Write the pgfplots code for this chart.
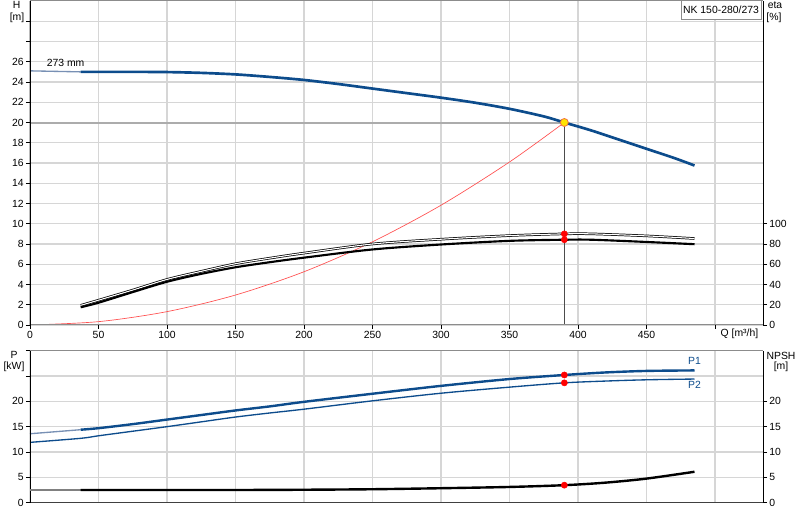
\documentclass[border=0pt]{standalone}
\usepackage{pgfplots}
\pgfplotsset{compat=1.18}
\usepackage{fontspec}
\setmainfont{Liberation Sans}
\definecolor{hblue}{HTML}{0D4C8C}
\definecolor{lblue}{HTML}{7890B4}
\definecolor{gridc}{HTML}{D6D6D6}
\definecolor{framec}{HTML}{8C8C8C}
\definecolor{dutyfill}{HTML}{FFE400}
\definecolor{dutyedge}{HTML}{F07040}
\definecolor{sysred}{HTML}{FF5050}
\begin{document}
\begin{tikzpicture}[font=\fontsize{7.8}{9}\selectfont]
\path[use as bounding box] (0pt,0pt) rectangle (600pt,390pt);
\pgfplotsset{
  base/.style={scale only axis, width=549.75pt, xmin=0, xmax=535,
    axis line style={draw=none},
    tick align=outside, major tick length=3pt,
    tick style={black, line width=0.5pt},
    tick label style={font=\fontsize{7.8}{9}\selectfont},
    /pgf/number format/assume math mode=true,
    every tick label/.append style={inner sep=1.5pt}},
  sec/.style={scale only axis, width=549.75pt, xmin=0, xmax=535,
    hide x axis, axis y line*=right, axis line style={black, line width=0.75pt, -},
    tick align=outside, major tick length=3pt,
    tick style={black, line width=0.5pt},
    tick label style={font=\fontsize{7.8}{9}\selectfont},
    /pgf/number format/assume math mode=true,
    every tick label/.append style={inner sep=1.5pt}},
}
% ---------- top panel: H ----------
\begin{axis}[base, at={(22.5pt,146.25pt)}, anchor=south west, height=243pt,
  ymin=0, ymax=32,
  xtick={0,50,...,500}, xticklabels={0,50,100,150,200,250,300,350,400,450,{}},
  ytick={0,2,...,30}, yticklabels={0,2,4,6,8,10,12,14,16,18,20,22,24,26,{},{}},
  xtick pos=bottom, ytick pos=left,
  grid=major, major grid style={gridc, line width=0.9pt}]
  % system curve
  \addplot[sysred, line width=0.5pt, smooth] coordinates {
    (0,0) (50,0.33) (100,1.32) (150,2.96) (200,5.26) (250,8.22) (300,11.83) (350,16.1) (390,20.0)};
  % duty lines
  \addplot[gray!65, line width=1.5pt] coordinates {(0,19.93) (390,19.93)};
  \addplot[black!70, line width=0.8pt] coordinates {(390,0) (390,20)};
  % H curve
  \addplot[lblue, line width=1pt] coordinates {(0,25.1) (37,25.0)};
  \addplot[hblue, line width=2pt, smooth] coordinates {
    (37,25.0) (50,25.0) (75,25.0) (100,24.98) (125,24.9) (150,24.75) (175,24.5) (200,24.2)
    (225,23.8) (250,23.35) (275,22.9) (300,22.45) (325,21.95) (350,21.35) (375,20.6)
    (390,20.0) (410,19.2) (430,18.3) (450,17.4) (470,16.5) (485,15.75)};
  \addplot[only marks, mark=*, mark size=3pt, mark options={fill=dutyfill, draw=dutyedge, line width=0.6pt}]
    coordinates {(390,20.0)};
  \node at (axis cs:26,25.9) {273 mm};
  \draw[framec, line width=1.6pt] (rel axis cs:0,0) -- (rel axis cs:1,0);
  \draw[framec, line width=0.75pt] (rel axis cs:0,1) -- (rel axis cs:1,1);
  \draw[black, line width=0.75pt] (rel axis cs:0,0) -- (rel axis cs:0,1);
\end{axis}
% ---------- top panel: eta ----------
\begin{axis}[sec, at={(22.5pt,146.25pt)}, anchor=south west, height=243pt,
  ymin=0, ymax=320, ytick={0,20,...,100}]
  \addplot[black, line width=0.55pt, double=white, double distance=0.8pt, smooth] coordinates {
    (37,19.4) (50,24.5) (75,34.5) (100,45) (125,53) (150,60.5) (175,66) (200,71) (250,80)
    (300,84.7) (350,88.3) (390,90) (410,90) (450,88) (485,85.4)};
  \addplot[black, line width=1.6pt, smooth] coordinates {
    (37,17.5) (50,22) (75,32.5) (100,42.7) (125,50.5) (150,57) (175,62) (200,66.5) (250,74.6)
    (300,79.5) (350,83.1) (390,84.2) (410,84.2) (450,82) (485,79.8)};
  \addplot[only marks, mark=*, mark size=2.3pt, red] coordinates {(390,90) (390,84.2)};
\end{axis}
% ---------- bottom panel: P ----------
\begin{axis}[base, at={(22.5pt,13pt)}, anchor=south west, height=114pt,
  ymin=0, ymax=30,
  xtick={50,100,...,500}, xticklabels={}, xtick style={draw=none},
  ytick={0,5,...,30}, yticklabels={0,5,10,15,20,{},{}},
  xtick pos=bottom, ytick pos=left,
  grid=major, major grid style={gridc, line width=0.9pt}]
  \addplot[lblue, line width=1pt] coordinates {(0,13.6) (37,14.4)};
  \addplot[hblue, line width=1.8pt, smooth] coordinates {
    (37,14.4) (50,14.7) (75,15.5) (100,16.4) (125,17.3) (150,18.2) (175,19.0) (200,19.9)
    (250,21.5) (300,23.05) (350,24.4) (390,25.2) (420,25.7) (450,26.0) (485,26.1)};
  \addplot[hblue, line width=1pt, smooth] coordinates {
    (0,11.9) (37,12.7) (50,13.2) (75,14.1) (100,15.0) (125,15.95) (150,16.9) (175,17.7)
    (200,18.45) (250,20.1) (300,21.6) (350,22.8) (390,23.65) (420,24.0) (450,24.25) (485,24.4)};
  \addplot[only marks, mark=*, mark size=2.3pt, red] coordinates {(390,25.2) (390,23.65)};
  \node[hblue] at (axis cs:485,27.9) {P1};
  \node[hblue] at (axis cs:485,23.2) {P2};
  \draw[black!75, line width=1pt] (rel axis cs:0,0) -- (rel axis cs:1,0);
  \draw[framec, line width=1pt] (rel axis cs:0,1) -- (rel axis cs:1,1);
  \draw[black, line width=0.75pt] (rel axis cs:0,0) -- (rel axis cs:0,1);
\end{axis}
% ---------- bottom panel: NPSH ----------
\begin{axis}[sec, at={(22.5pt,13pt)}, anchor=south west, height=114pt,
  ymin=0, ymax=30, ytick={0,5,...,20}]
  \addplot[gray, line width=0.8pt] coordinates {(0,2.5) (37,2.5)};
  \addplot[black, line width=1.8pt, smooth] coordinates {
    (37,2.5) (100,2.5) (150,2.5) (200,2.55) (250,2.65) (300,2.85) (350,3.1) (390,3.45)
    (420,3.95) (450,4.75) (485,6.1)};
  \addplot[only marks, mark=*, mark size=2.3pt, red] coordinates {(390,3.45)};
\end{axis}
% ---------- outer labels ----------
\node at (12.5pt,386.25pt) {H};
\node at (12.75pt,377pt) {[m]};
\node at (581.25pt,386.25pt) {eta};
\node at (580.5pt,377pt) {[\%]};
\node[draw=framec, fill=white, line width=0.6pt, minimum width=60pt, minimum height=14.25pt, inner sep=1pt]
  at (540.75pt,382.9pt) {NK 150-280/273};
\node at (554.6pt,139.5pt) {Q [m³/h]};
\node at (10.5pt,123.75pt) {P};
\node at (10.5pt,115pt) {[kW]};
\node at (585.75pt,123pt) {NPSH};
\node at (585.75pt,114.75pt) {[m]};
\end{tikzpicture}
\end{document}
